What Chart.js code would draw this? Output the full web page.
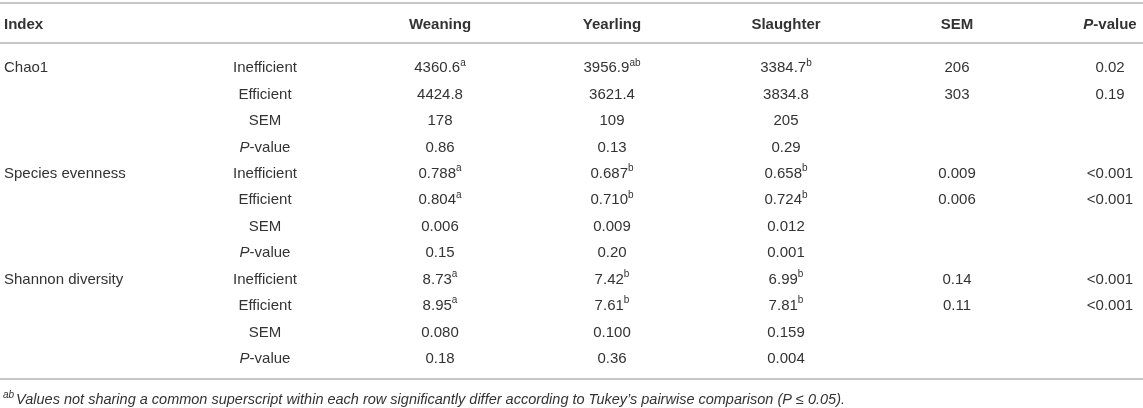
<html>
<head>
    <script src="https://cdn.jsdelivr.net/npm/chart.js@4/dist/chart.umd.min.js"></script>
    <title>Alpha diversity</title>
    <style>
        body { margin: 0; background: #fff; }
    </style>
</head>
<body>
<canvas id="table-chart" width="1143" height="408"></canvas>

<script>
    // header and row labels
    var columnLabels = ['Weaning', 'Yearling', 'Slaughter', 'SEM', 'P-value'];
    var groupLabels = ['Inefficient', 'Efficient', 'SEM', 'P-value'];
    var indexNames = ['Chao1', 'Species evenness', 'Shannon diversity'];

    // Chao1
    var chao1Inefficient = ['4360.6', '3956.9', '3384.7', '206', '0.02'];
    var chao1InefficientSup = ['a', 'ab', 'b'];
    var chao1Efficient = ['4424.8', '3621.4', '3834.8', '303', '0.19'];
    var chao1EfficientSup = [];
    var chao1Sem = ['178', '109', '205'];
    var chao1P = ['0.86', '0.13', '0.29'];

    // species evenness
    var evenInefficient = ['0.788', '0.687', '0.658', '0.009', '<0.001'];
    var evenInefficientSup = ['a', 'b', 'b'];
    var evenEfficient = ['0.804', '0.710', '0.724', '0.006', '<0.001'];
    var evenEfficientSup = ['a', 'b', 'b'];
    var evenSem = ['0.006', '0.009', '0.012'];
    var evenP = ['0.15', '0.20', '0.001'];

    // shannon diversity
    var shanInefficient = ['8.73', '7.42', '6.99', '0.14', '<0.001'];
    var shanInefficientSup = ['a', 'b', 'b'];
    var shanEfficient = ['8.95', '7.61', '7.81', '0.11', '<0.001'];
    var shanEfficientSup = ['a', 'b', 'b'];
    var shanSem = ['0.080', '0.100', '0.159'];
    var shanP = ['0.18', '0.36', '0.004'];

    var footnoteSup = 'ab';
    var footnoteText = 'Values not sharing a common superscript within each row significantly differ according to Tukey\u2019s pairwise comparison (P \u2264 0.05).';

    // layout: column anchors on the x scale (index col left aligned, rest centered)
    var colX = [4, 265, 440, 612, 786, 957, 1110];
    var FONT = '"Liberation Sans", Arial, sans-serif';
    var TEXT = '#333';
    var RULE = '#b4b4b4';

    var blocks = [
        [[chao1Inefficient, chao1InefficientSup], [chao1Efficient, chao1EfficientSup], [chao1Sem, []], [chao1P, []]],
        [[evenInefficient, evenInefficientSup], [evenEfficient, evenEfficientSup], [evenSem, []], [evenP, []]],
        [[shanInefficient, shanInefficientSup], [shanEfficient, shanEfficientSup], [shanSem, []], [shanP, []]]
    ];

    function pLabel(bold) {
        return [{t: 'P', italic: true, bold: bold}, {t: '-value', bold: bold}];
    }

    // build row keys and one dataset per column
    var rowKeys = [];
    var indexCol = [], groupCol = [];
    var valueCols = columnLabels.map(() => []);
    blocks.forEach((block, b) => {
        block.forEach((row, g) => {
            var key = 'r' + rowKeys.length;
            rowKeys.push(key);
            if (g === 0) indexCol.push({x: colX[0], y: key, parts: [{t: indexNames[b]}]});
            var gl = groupLabels[g] === 'P-value' ? pLabel(false) : [{t: groupLabels[g]}];
            groupCol.push({x: colX[1], y: key, parts: gl});
            row[0].forEach((v, c) => {
                var parts = [{t: v}];
                if (row[1][c]) parts.push({t: row[1][c], sup: true});
                valueCols[c].push({x: colX[c + 2], y: key, parts: parts});
            });
        });
    });

    var datasets = [
        {label: 'Index', data: indexCol, align: 'left'},
        {label: 'Group', data: groupCol, align: 'center'}
    ].concat(valueCols.map((d, c) => ({label: columnLabels[c], data: d, align: 'center'})));
    datasets.forEach(ds => { ds.pointRadius = 0; ds.pointHoverRadius = 0; });

    function fontFor(p, size) {
        var s = p.sup ? Math.round(size * 0.68) : size;
        return (p.italic ? 'italic ' : '') + (p.bold ? 'bold ' : '') + s + 'px ' + FONT;
    }

    function drawParts(ctx, parts, x, y, align, size) {
        var total = 0;
        parts.forEach(p => { ctx.font = fontFor(p, size); p.w = ctx.measureText(p.t).width + (p.gap || 0); total += p.w; });
        var cx = align === 'left' ? x : x - total / 2;
        y += 2;
        ctx.textBaseline = 'middle';
        ctx.textAlign = 'left';
        parts.forEach(p => {
            ctx.font = fontFor(p, size);
            ctx.fillText(p.t, cx, p.sup ? y - size * 0.35 : y);
            cx += p.w;
        });
    }

    var tablePlugin = {
        id: 'tableText',
        afterDatasetsDraw(chart) {
            var ctx = chart.ctx;
            var area = chart.chartArea;
            var xs = chart.scales.x;
            ctx.save();
            ctx.fillStyle = TEXT;

            // rules
            ctx.strokeStyle = RULE;
            ctx.lineWidth = 1.5;
            [3, area.top - 10, area.bottom + 9].forEach(y => {
                ctx.beginPath();
                ctx.moveTo(0, y);
                ctx.lineTo(chart.width, y);
                ctx.stroke();
            });

            // header
            var hy = area.top - 30;
            drawParts(ctx, [{t: 'Index', bold: true}], xs.getPixelForValue(colX[0]), hy, 'left', 15);
            columnLabels.forEach((lab, c) => {
                var parts = lab === 'P-value' ? pLabel(true) : [{t: lab, bold: true}];
                drawParts(ctx, parts, xs.getPixelForValue(colX[c + 2]), hy, 'center', 15);
            });

            // cells
            chart.data.datasets.forEach((ds, i) => {
                var meta = chart.getDatasetMeta(i);
                meta.data.forEach((pt, j) => {
                    drawParts(ctx, ds.data[j].parts.map(p => Object.assign({}, p)), pt.x, pt.y, ds.align, 15);
                });
            });

            // footnote
            drawParts(ctx, [{t: footnoteSup, italic: true, sup: true, gap: 2}, {t: footnoteText, italic: true}],
                3, area.bottom + 28, 'left', 14.5);
            ctx.restore();
        }
    };

    var tableChart = new Chart(document.getElementById('table-chart'), {
        type: 'scatter',
        data: {datasets: datasets},
        options: {
            responsive: false,
            animation: false,
            events: [],
            layout: {padding: {top: 53, bottom: 38, left: 0, right: 0}},
            scales: {
                x: {type: 'linear', min: 0, max: 1143, display: false},
                y: {type: 'category', labels: rowKeys, offset: true, display: false}
            },
            plugins: {
                legend: {display: false},
                tooltip: {enabled: false}
            }
        },
        plugins: [tablePlugin]
    });
</script>
</body>
</html>
